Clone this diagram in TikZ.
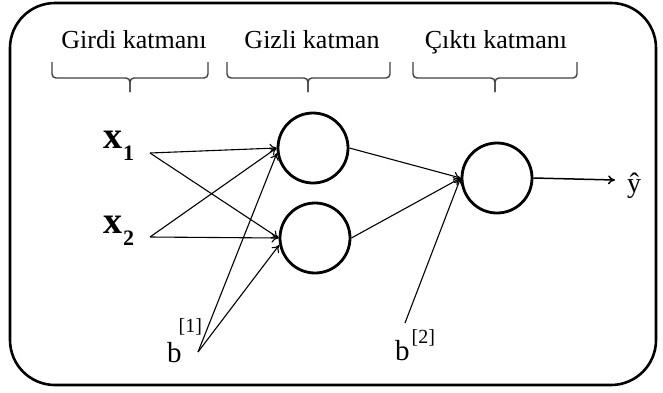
\documentclass[tikz,border=0pt]{standalone}
\usepackage{fontspec}
\setmainfont{Liberation Serif}
\usetikzlibrary{arrows.meta}
\newcommand{\layerbrace}[3]{%
  \draw[brc] (#1,62) -- (#1,78) -- (#2,78) -- (#2,92);
  \draw[brc] (#3,62) -- (#3,78) -- (#2,78) -- (#2,92);}
\begin{document}
\begin{tikzpicture}[x=1pt,y=-1pt,
  cell/.style={circle,draw,line width=2.8pt,minimum size=70pt,inner sep=0pt},
  conn/.style={line width=1.1pt,-{To[length=7pt,width=9pt]}},
  brc/.style={draw=black!75,line width=1.4pt,rounded corners=4pt},
  lbl/.style={anchor=base,inner sep=0pt,font=\fontsize{26}{30}\selectfont},
  sym/.style={anchor=base west,inner sep=0pt}]
\useasboundingbox (0,0) rectangle (663,392);
\draw[line width=2.6pt,rounded corners=45pt] (10,3) rectangle (656,385);

% layer labels and braces
\node[lbl] (l1) at (134,48) {Girdi katmanı};
\node[lbl] (l2) at (312,48) {Gizli katman};
\node[lbl] (l3) at (496,48) {Çıktı katmanı};
\layerbrace{52}{130}{208}
\layerbrace{227}{308}{390}
\layerbrace{413}{495}{577}

% neurons
\node[cell] (h1) at (313,148) {};
\node[cell] (h2) at (315,238) {};
\node[cell] (o) at (497,178) {};

% inputs
\node[sym] (x1) at (103,148) {\fontsize{38}{40}\selectfont\bfseries x\kern1pt\raisebox{-12pt}{\fontsize{22}{22}\selectfont 1}};
\node[sym] (x2) at (103,233) {\fontsize{38}{40}\selectfont\bfseries x\kern1pt\raisebox{-12pt}{\fontsize{22}{22}\selectfont 2}};
\node[sym] (b1) at (167,362) {\fontsize{29}{32}\selectfont b\kern-3pt\raisebox{30pt}{\fontsize{20}{20}\selectfont [1]}};
\node[sym] (b2) at (395,360) {\fontsize{29}{32}\selectfont b\kern2pt\raisebox{17pt}{\fontsize{20}{20}\selectfont [2]}};
\node[sym] (yh) at (627,192) {\fontsize{28}{30}\selectfont ŷ};

\coordinate (x1p) at (150,153);
\coordinate (x2p) at (150,237);
\coordinate (b1p) at (198,352);
\coordinate (b2p) at (405,323);
\coordinate (yend) at (615,180);

% connections
\draw[conn] (x1p) -- (h1.west);
\draw[conn] (x1p) -- (h2.west);
\draw[conn] (x2p) -- (h1.west);
\draw[conn] (x2p) -- (h2.west);
\draw[conn] (b1p) -- (h1.188);
\draw[conn] (b1p) -- (h2.191);
\draw[conn] (h1.east) -- (o.west);
\draw[conn] (h2.east) -- (o.west);
\draw[conn] (b2p) -- (o.west);
\draw[conn,line width=1.5pt] (o.east) -- (yend);
\end{tikzpicture}
\end{document}
